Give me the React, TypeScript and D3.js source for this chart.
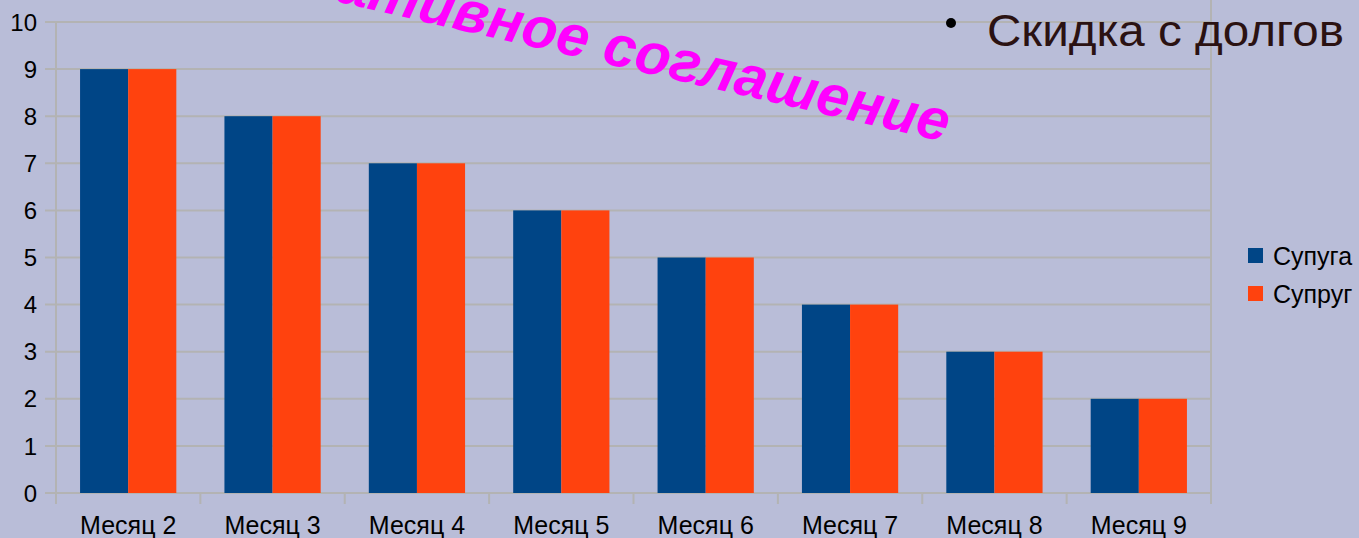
import React, { useEffect, useRef } from "react";
import * as d3 from "d3";

const months = ["Месяц 2", "Месяц 3", "Месяц 4", "Месяц 5", "Месяц 6", "Месяц 7", "Месяц 8", "Месяц 9"];
const keys = ["Супуга", "Супруг"];
const wifeValues = [9, 8, 7, 6, 5, 4, 3, 2];
const husbandValues = [9, 8, 7, 6, 5, 4, 3, 2];
const yTicks = [0, 1, 2, 3, 4, 5, 6, 7, 8, 9, 10];

const colors = { "Супуга": "#004586", "Супруг": "#ff420e" };

const W = 1359;
const H = 538;
const left = 56;
const right = 1211;
const top = 22;
const bottom = 493;

const App = () => {
  const svgRef = useRef(null);

  useEffect(() => {
    const svg = d3.select(svgRef.current);
    svg.selectAll("*").remove();

    const data = months.map((m, i) => ({ month: m, "Супуга": wifeValues[i], "Супруг": husbandValues[i] }));

    // scales
    const x0 = d3.scaleBand().domain(months).range([left, right]).padding(0);
    const x1 = d3.scaleBand().domain(keys).range([0, x0.bandwidth()]).paddingInner(0).paddingOuter(0.5);
    const y = d3.scaleLinear().domain([0, 10]).range([bottom, top]);

    svg.append("rect").attr("width", W).attr("height", H).attr("fill", "#b9bdd8");

    // grid lines + left ticks
    svg
      .append("g")
      .selectAll("line")
      .data(yTicks)
      .join("line")
      .attr("x1", left - 11)
      .attr("x2", right)
      .attr("y1", (d) => y(d))
      .attr("y2", (d) => y(d))
      .attr("stroke", "#b3b3b3")
      .attr("stroke-width", 2);

    // axis lines
    svg.append("line").attr("x1", left).attr("x2", left).attr("y1", top).attr("y2", bottom + 11)
      .attr("stroke", "#b3b3b3").attr("stroke-width", 2);
    svg.append("line").attr("x1", right).attr("x2", right).attr("y1", 0).attr("y2", bottom + 11)
      .attr("stroke", "#b3b3b3").attr("stroke-width", 2);

    // category boundary ticks
    svg
      .append("g")
      .selectAll("line")
      .data(months.slice(1))
      .join("line")
      .attr("x1", (d) => x0(d))
      .attr("x2", (d) => x0(d))
      .attr("y1", bottom)
      .attr("y2", bottom + 11)
      .attr("stroke", "#b3b3b3")
      .attr("stroke-width", 2);

    // y labels
    svg
      .append("g")
      .selectAll("text")
      .data(yTicks)
      .join("text")
      .attr("x", 37)
      .attr("y", (d) => y(d))
      .attr("dy", "0.36em")
      .attr("text-anchor", "end")
      .attr("font-size", 24)
      .attr("fill", "#000")
      .text((d) => d);

    // x labels
    svg
      .append("g")
      .selectAll("text")
      .data(months)
      .join("text")
      .attr("x", (d) => x0(d) + x0.bandwidth() / 2)
      .attr("y", 534)
      .attr("text-anchor", "middle")
      .attr("font-size", 25)
      .attr("fill", "#000")
      .text((d) => d);

    // bars
    svg
      .selectAll(".layer")
      .data(data)
      .join("g")
      .attr("class", "layer")
      .attr("transform", (d) => `translate(${x0(d.month)}, 0)`)
      .selectAll("rect")
      .data((d) => keys.map((key) => ({ key: key, value: d[key] })))
      .join("rect")
      .attr("x", (d) => x1(d.key))
      .attr("width", x1.bandwidth())
      .attr("y", (d) => y(d.value))
      .attr("height", (d) => bottom - y(d.value))
      .attr("fill", (d) => colors[d.key]);

    // legend
    const legend = svg
      .append("g")
      .selectAll("g")
      .data(keys)
      .join("g")
      .attr("transform", (d, i) => `translate(1248, ${248 + i * 38})`);
    legend.append("rect").attr("width", 15).attr("height", 15).attr("fill", (d) => colors[d]);
    legend
      .append("text")
      .attr("x", 25)
      .attr("y", 7.5)
      .attr("dy", "0.36em")
      .attr("font-size", 25)
      .attr("fill", "#000")
      .text((d) => d);

    // slide overlays
    svg
      .append("text")
      .attr("transform", "translate(945, 142) rotate(13)")
      .attr("text-anchor", "end")
      .attr("font-size", 58)
      .attr("font-weight", "bold")
      .attr("font-style", "italic")
      .attr("fill", "#ff00ff")
      .text("Альтернативное соглашение");

    svg.append("circle").attr("cx", 951).attr("cy", 23).attr("r", 5).attr("fill", "#000");
    svg
      .append("text")
      .attr("x", 987)
      .attr("y", 46)
      .attr("font-size", 44)
      .attr("textLength", 357)
      .attr("lengthAdjust", "spacingAndGlyphs")
      .attr("fill", "#2b1212")
      .text("Скидка с долгов");
  });

  return (
    <svg
      ref={svgRef}
      width={W}
      height={H}
      style={{ position: "absolute", left: 0, top: 0, fontFamily: "'Liberation Sans', Arial, sans-serif" }}
    />
  );
};

export default App;
